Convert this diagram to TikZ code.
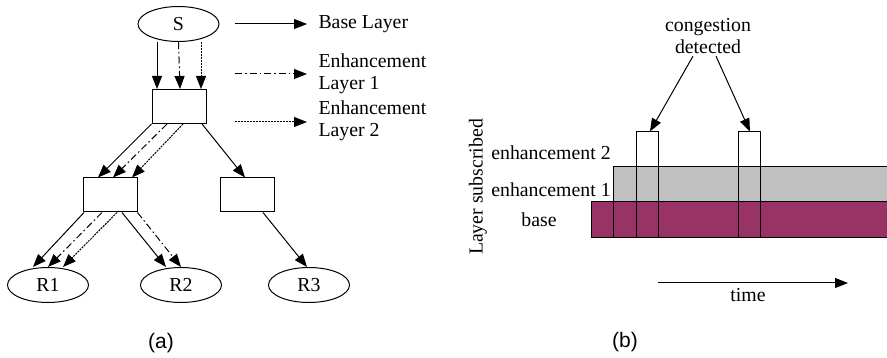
\documentclass[tikz,border=0pt]{standalone}
\usepackage{fontspec}
\setmainfont{Liberation Serif}
\setsansfont{Liberation Sans}
\usetikzlibrary{shapes.geometric,arrows.meta}
\definecolor{basecol}{HTML}{993366}
\definecolor{enhcol}{HTML}{C0C0C0}

\begin{document}
\begin{tikzpicture}[x = 1pt, y = -1pt, line width = 1pt,
                        font = \fontsize{19.8}{22}\selectfont,
                        >= {Triangle[length = 13pt, width = 10pt]},
                        host/.style = {ellipse, draw, inner sep = 0pt, minimum width = 81pt, minimum height = 35pt},
                        router/.style = {rectangle, draw, minimum width = 54pt, minimum height = 34pt},
                        enhone/.style = {dash pattern = on 7pt off 3pt on 1.5pt off 3pt},
                        enhtwo/.style = {dash pattern = on 2pt off 1pt},
                        spike/.style = {rectangle, draw, inner sep = 0pt, minimum width = 22pt, minimum height = 106pt},
                        sublabel/.style = {font = \sffamily\fontsize{21}{24}\selectfont}]
      \useasboundingbox (0, 0) rectangle (887, 358);

      % (a) multicast tree
      \node [host] (S) at (178.5, 24) {S};
      \node [router] (B0) at (179, 106.5) {};
      \node [router] (B1) at (110, 195) {};
      \node [router] (B2) at (247.5, 195) {};
      \node [host] (R1) at (48, 285) {R1};
      \node [host] (R2) at (181, 285) {R2};
      \node [host] (R3) at (309, 285) {R3};

      \draw [->] ([xshift = -21.5pt]S.south) -- ([xshift = -22pt]B0.north);
      \draw [->, enhone] (S.south) -- ([xshift = 1pt]B0.north);
      \draw [->, enhtwo] ([xshift = 22.5pt]S.south) -- ([xshift = 22pt]B0.north);

      \draw [->] (B0.south west) -- ([xshift = -12pt]B1.north);
      \draw [->, enhone] ([xshift = -12pt]B0.south) -- ([xshift = 3pt]B1.north);
      \draw [->, enhtwo] ([xshift = 4pt]B0.south) -- ([xshift = 22pt]B1.north);
      \draw [->] ([xshift = 23pt]B0.south) -- ([xshift = -2.5pt]B2.north);

      \draw [->] ([xshift = -26pt]B1.south) -- ([xshift = -15pt]R1.north);
      \draw [->, enhone] ([xshift = -8pt]B1.south) -- (R1.north);
      \draw [->, enhtwo] ([xshift = 7pt]B1.south) -- ([xshift = 15pt]R1.north);
      \draw [->] ([xshift = 12pt]B1.south) -- ([xshift = -15pt]R2.north);
      \draw [->, enhone] (B1.south east) -- (R2.north);
      \draw [->] ([xshift = 15.5pt]B2.south) -- ([xshift = -2pt]R3.north);

      % legend
      \node [anchor = west, inner sep = 0pt] (LB) at (318, 24) {Base Layer};
      \node [anchor = west, inner sep = 0pt, align = left] (L1) at (318, 74) {Enhancement\\Layer 1};
      \node [anchor = west, inner sep = 0pt, align = left] (L2) at (318, 121) {Enhancement\\Layer 2};
      \coordinate (LB0) at (235, 24);
      \coordinate (L10) at (235, 74);
      \coordinate (L20) at (235, 122);
      \draw [->, shorten > = 11pt] (LB0) -- (LB.west);
      \draw [->, enhone, shorten > = 11pt] (L10) -- (L10 -| L1.west);
      \draw [->, enhtwo, shorten > = 11pt] (L20) -- (L20 -| L2.west);

      \node [sublabel] (capa) at (161, 343) {(a)};

      % (b) layers over time
      \fill [basecol] (591, 202) rectangle (890, 238);
      \fill [enhcol] (613, 167) rectangle (890, 202);
      \draw (591, 238) -- (591, 202) -- (890, 202);
      \draw (591, 238) -- (890, 238);
      \draw (613, 238) -- (613, 167) -- (890, 167);
      \node [spike] (C1) at (647, 185) {};
      \node [spike] (C2) at (749, 185) {};

      \node [align = center, inner sep = 2pt] (cong) at (708, 36) {congestion\\detected};
      \draw [->] ([xshift = -15pt]cong.south) -- ([xshift = 3pt]C1.north);
      \draw [->] ([xshift = 8pt]cong.south) -- ([xshift = 1pt]C2.north);

      \node (e2) at (551, 153) {enhancement 2};
      \node (e1) at (551, 190) {enhancement 1};
      \node (eb) at (539, 220) {base};
      \node [rotate = 90] (ylab) at (478, 187) {Layer subscribed};

      \coordinate (t0) at (658, 283);
      \coordinate (t1) at (848, 283);
      \draw [->] (t0) -- (t1);
      \node (time) at (748, 295) {time};

      \node [sublabel] (capb) at (625, 342) {(b)};
\end{tikzpicture}
\end{document}
